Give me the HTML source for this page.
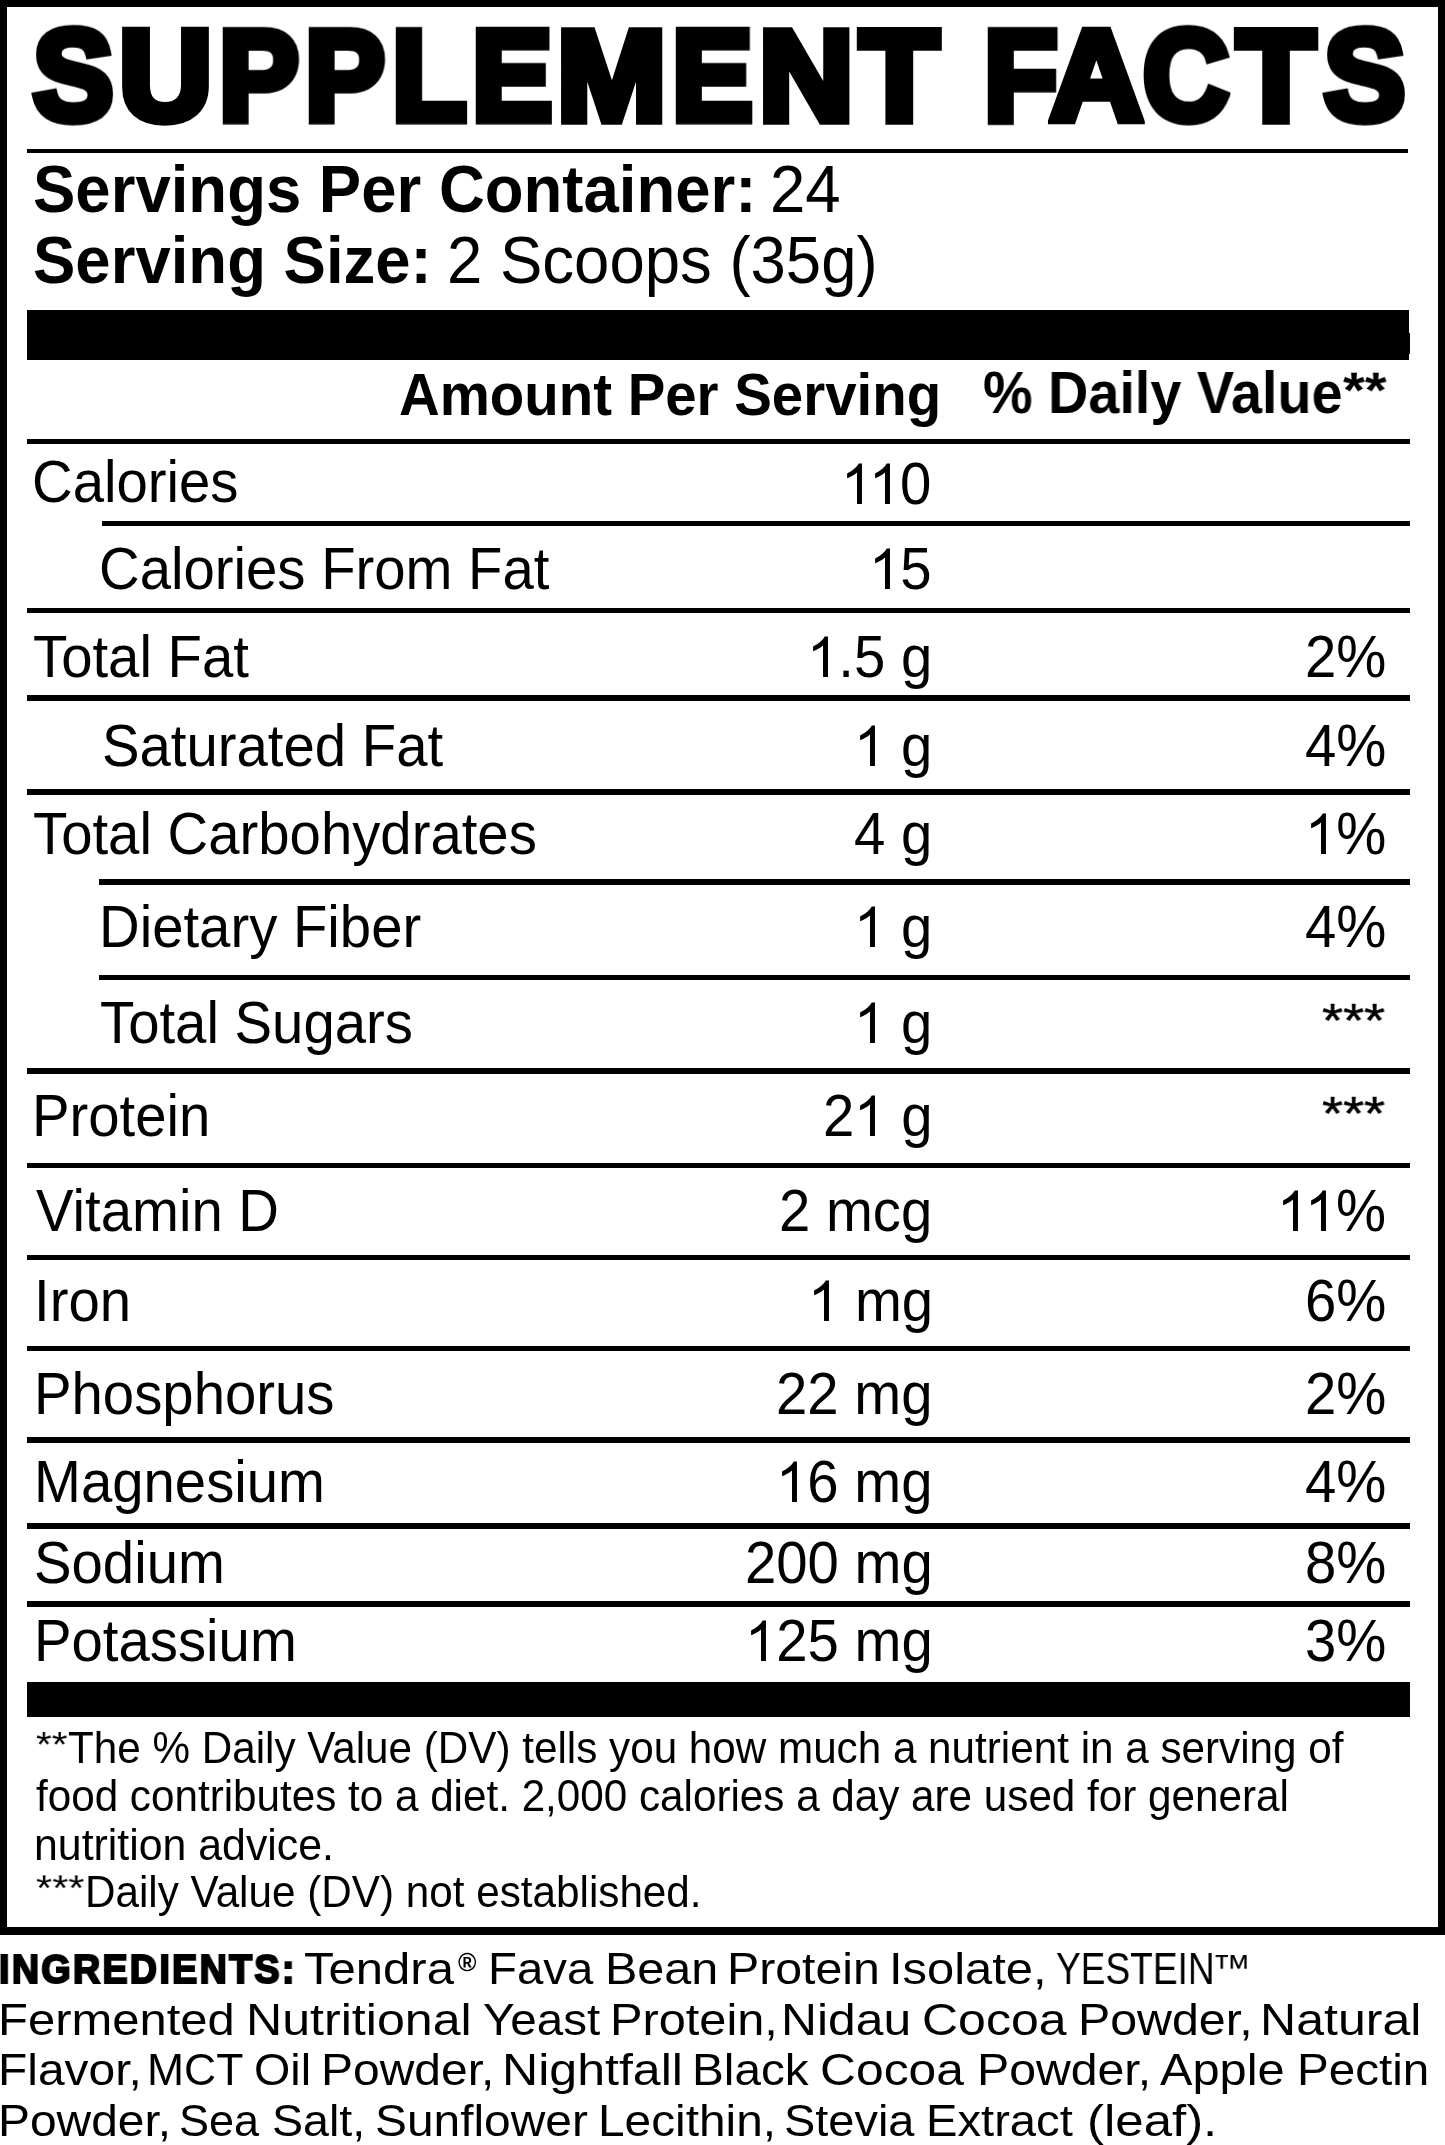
<!DOCTYPE html><html><head><meta charset="utf-8"><style>
html,body{margin:0;padding:0;background:#fff;}
body{width:1445px;height:2145px;position:relative;overflow:hidden;font-family:"Liberation Sans",sans-serif;color:#000;}
.t{position:absolute;white-space:pre;margin:0;padding:0;will-change:transform;}
.b{font-weight:700;}
.r{position:absolute;background:#000;}
.o{position:relative;color:transparent;}
.o svg{position:absolute;left:0;top:0;width:0.55615em;height:1.11719em;overflow:visible;}
</style></head><body>
<div class="r" style="left:0px;top:0px;width:1445px;height:7px"></div>
<div class="r" style="left:0px;top:0px;width:7px;height:1935px"></div>
<div class="r" style="left:1438px;top:0px;width:7px;height:1935px"></div>
<div class="r" style="left:0px;top:1927px;width:1445px;height:8px"></div>
<div class="r" style="left:27px;top:149px;width:1381px;height:4px"></div>
<div class="r" style="left:27px;top:310px;width:1382px;height:50px"></div>
<div class="r" style="left:1409px;top:333px;width:1px;height:21px"></div>
<div class="r" style="left:27px;top:439px;width:1383px;height:5px"></div>
<div class="r" style="left:102px;top:521px;width:1308px;height:5px"></div>
<div class="r" style="left:27px;top:608px;width:1383px;height:5px"></div>
<div class="r" style="left:27px;top:695px;width:1383px;height:6px"></div>
<div class="r" style="left:27px;top:789px;width:1383px;height:6px"></div>
<div class="r" style="left:99px;top:879px;width:1311px;height:6px"></div>
<div class="r" style="left:99px;top:975px;width:1311px;height:5px"></div>
<div class="r" style="left:27px;top:1068px;width:1383px;height:6px"></div>
<div class="r" style="left:27px;top:1163px;width:1383px;height:5px"></div>
<div class="r" style="left:27px;top:1255px;width:1383px;height:5px"></div>
<div class="r" style="left:27px;top:1346px;width:1383px;height:5px"></div>
<div class="r" style="left:27px;top:1437px;width:1383px;height:6px"></div>
<div class="r" style="left:27px;top:1523px;width:1383px;height:6px"></div>
<div class="r" style="left:27px;top:1601px;width:1383px;height:6px"></div>
<div class="r" style="left:27px;top:1682px;width:1383px;height:35px"></div>
<div id="t0" class="t b" style="left:32.53px;top:7.14px;font-size:125.00px;line-height:139.648px;transform-origin:0 113.16px;transform:scale(0.9647,1.0290);-webkit-text-stroke:9px #000;">S</div>
<div id="t1" class="t b" style="left:118.56px;top:7.14px;font-size:125.00px;line-height:139.648px;transform-origin:0 113.16px;transform:scale(1.0312,1.0290);-webkit-text-stroke:9px #000;">U</div>
<div id="t2" class="t b" style="left:218.59px;top:7.14px;font-size:125.00px;line-height:139.648px;transform-origin:0 113.16px;transform:scale(0.9578,1.0290);-webkit-text-stroke:9px #000;">P</div>
<div id="t3" class="t b" style="left:304.99px;top:7.14px;font-size:125.00px;line-height:139.648px;transform-origin:0 113.16px;transform:scale(0.9578,1.0290);-webkit-text-stroke:9px #000;">P</div>
<div id="t4" class="t b" style="left:391.84px;top:7.14px;font-size:125.00px;line-height:139.648px;transform-origin:0 113.16px;transform:scale(0.9756,1.0290);-webkit-text-stroke:9px #000;">L</div>
<div id="t5" class="t b" style="left:471.66px;top:7.14px;font-size:125.00px;line-height:139.648px;transform-origin:0 113.16px;transform:scale(0.9620,1.0290);-webkit-text-stroke:9px #000;">E</div>
<div id="t6" class="t b" style="left:556.62px;top:7.14px;font-size:125.00px;line-height:139.648px;transform-origin:0 113.16px;transform:scale(1.0502,1.0290);-webkit-text-stroke:9px #000;">M</div>
<div id="t7" class="t b" style="left:672.21px;top:7.14px;font-size:125.00px;line-height:139.648px;transform-origin:0 113.16px;transform:scale(0.9672,1.0290);-webkit-text-stroke:9px #000;">E</div>
<div id="t8" class="t b" style="left:759.35px;top:7.14px;font-size:125.00px;line-height:139.648px;transform-origin:0 113.16px;transform:scale(1.0465,1.0290);-webkit-text-stroke:9px #000;">N</div>
<div id="t9" class="t b" style="left:860.45px;top:7.14px;font-size:125.00px;line-height:139.648px;transform-origin:0 113.16px;transform:scale(1.0295,1.0290);-webkit-text-stroke:9px #000;">T</div>
<div id="t10" class="t b" style="left:983.94px;top:7.14px;font-size:125.00px;line-height:139.648px;transform-origin:0 113.16px;transform:scale(0.9640,1.0290);-webkit-text-stroke:9px #000;">F</div>
<div id="t11" class="t b" style="left:1050.40px;top:7.14px;font-size:125.00px;line-height:139.648px;transform-origin:0 113.16px;transform:scale(1.0278,1.0290);-webkit-text-stroke:9px #000;">A</div>
<div id="t12" class="t b" style="left:1143.13px;top:7.14px;font-size:125.00px;line-height:139.648px;transform-origin:0 113.16px;transform:scale(0.9496,1.0290);-webkit-text-stroke:9px #000;">C</div>
<div id="t13" class="t b" style="left:1236.97px;top:7.14px;font-size:125.00px;line-height:139.648px;transform-origin:0 113.16px;transform:scale(1.0222,1.0290);-webkit-text-stroke:9px #000;">T</div>
<div id="t14" class="t b" style="left:1323.79px;top:7.14px;font-size:125.00px;line-height:139.648px;transform-origin:0 113.16px;transform:scale(0.9743,1.0290);-webkit-text-stroke:9px #000;">S</div>
<div id="t15" class="t b" style="left:33.37px;top:154.52px;font-size:63.50px;line-height:70.941px;transform-origin:0 57.48px;transform:scale(1.0000,1.0400);">Servings Per Container:</div>
<div id="t16" class="t" style="left:770.11px;top:154.52px;font-size:63.50px;line-height:70.941px;transform-origin:0 57.48px;transform:scale(1.0000,1.0400);">24</div>
<div id="t17" class="t b" style="left:33.37px;top:225.52px;font-size:63.50px;line-height:70.941px;transform-origin:0 57.48px;transform:scale(1.0000,1.0400);">Serving Size:</div>
<div id="t18" class="t" style="left:447.01px;top:225.52px;font-size:63.50px;line-height:70.941px;transform-origin:0 57.48px;transform:scale(1.0000,1.0400);">2 Scoops (35g)</div>
<div id="t19" class="t b" style="left:399.20px;top:363.54px;font-size:56.40px;line-height:63.009px;transform-origin:0 51.06px;transform:scale(1.0000,1.0400);">Amount Per Serving</div>
<div id="t20" class="t b" style="left:982.91px;top:362.14px;font-size:56.40px;line-height:63.009px;transform-origin:0 51.06px;transform:scale(0.9889,1.0400);">% Daily Value</div>
<div id="t21" class="t b" style="left:1342.94px;top:356.04px;font-size:56.40px;line-height:63.009px;transform-origin:0 51.06px;transform:scale(0.9913,0.9050);">**</div>
<div id="t22" class="t" style="left:31.54px;top:452.03px;font-size:56.30px;line-height:62.898px;transform-origin:0 50.97px;transform:scale(1.0000,1.0400);">Calories</div>
<div id="t23" class="t" style="left:841.27px;top:454.03px;font-size:56.30px;line-height:62.898px;transform-origin:0 50.97px;transform:scale(1.0000,1.0400);"><span class="o" style="margin-right:-0.065em">1<svg viewBox="0 0 1139 2288"><path d="M763 1854 L583 1854 L583 751 Q518 811 412 870 Q306 930 222 960 L222 792 Q373 724 486 627 Q599 530 646 439 L763 439Z"/></svg></span><span class="o">1<svg viewBox="0 0 1139 2288"><path d="M763 1854 L583 1854 L583 751 Q518 811 412 870 Q306 930 222 960 L222 792 Q373 724 486 627 Q599 530 646 439 L763 439Z"/></svg></span>0</div>
<div id="t24" class="t" style="left:98.74px;top:539.03px;font-size:56.30px;line-height:62.898px;transform-origin:0 50.97px;transform:scale(1.0000,1.0400);">Calories From Fat</div>
<div id="t25" class="t" style="left:868.74px;top:539.03px;font-size:56.30px;line-height:62.898px;transform-origin:0 50.97px;transform:scale(1.0000,1.0400);"><span class="o">1<svg viewBox="0 0 1139 2288"><path d="M763 1854 L583 1854 L583 751 Q518 811 412 870 Q306 930 222 960 L222 792 Q373 724 486 627 Q599 530 646 439 L763 439Z"/></svg></span>5</div>
<div id="t26" class="t" style="left:33.24px;top:626.63px;font-size:56.30px;line-height:62.898px;transform-origin:0 50.97px;transform:scale(1.0000,1.0400);">Total Fat</div>
<div id="t27" class="t" style="left:807.41px;top:626.63px;font-size:56.30px;line-height:62.898px;transform-origin:0 50.97px;transform:scale(1.0000,1.0400);"><span class="o">1<svg viewBox="0 0 1139 2288"><path d="M763 1854 L583 1854 L583 751 Q518 811 412 870 Q306 930 222 960 L222 792 Q373 724 486 627 Q599 530 646 439 L763 439Z"/></svg></span>.5 g</div>
<div id="t28" class="t" style="left:1305.04px;top:626.63px;font-size:56.30px;line-height:62.898px;transform-origin:0 50.97px;transform:scale(1.0000,1.0400);">2%</div>
<div id="t29" class="t" style="left:101.84px;top:715.53px;font-size:56.30px;line-height:62.898px;transform-origin:0 50.97px;transform:scale(1.0000,1.0400);">Saturated Fat</div>
<div id="t30" class="t" style="left:854.36px;top:715.53px;font-size:56.30px;line-height:62.898px;transform-origin:0 50.97px;transform:scale(1.0000,1.0400);"><span class="o">1<svg viewBox="0 0 1139 2288"><path d="M763 1854 L583 1854 L583 751 Q518 811 412 870 Q306 930 222 960 L222 792 Q373 724 486 627 Q599 530 646 439 L763 439Z"/></svg></span> g</div>
<div id="t31" class="t" style="left:1305.04px;top:715.53px;font-size:56.30px;line-height:62.898px;transform-origin:0 50.97px;transform:scale(1.0000,1.0400);">4%</div>
<div id="t32" class="t" style="left:33.24px;top:804.03px;font-size:56.30px;line-height:62.898px;transform-origin:0 50.97px;transform:scale(1.0000,1.0400);">Total Carbohydrates</div>
<div id="t33" class="t" style="left:854.36px;top:804.03px;font-size:56.30px;line-height:62.898px;transform-origin:0 50.97px;transform:scale(1.0000,1.0400);">4 g</div>
<div id="t34" class="t" style="left:1305.04px;top:804.03px;font-size:56.30px;line-height:62.898px;transform-origin:0 50.97px;transform:scale(1.0000,1.0400);"><span class="o">1<svg viewBox="0 0 1139 2288"><path d="M763 1854 L583 1854 L583 751 Q518 811 412 870 Q306 930 222 960 L222 792 Q373 724 486 627 Q599 530 646 439 L763 439Z"/></svg></span>%</div>
<div id="t35" class="t" style="left:98.88px;top:897.33px;font-size:56.30px;line-height:62.898px;transform-origin:0 50.97px;transform:scale(1.0000,1.0400);">Dietary Fiber</div>
<div id="t36" class="t" style="left:854.36px;top:897.33px;font-size:56.30px;line-height:62.898px;transform-origin:0 50.97px;transform:scale(1.0000,1.0400);"><span class="o">1<svg viewBox="0 0 1139 2288"><path d="M763 1854 L583 1854 L583 751 Q518 811 412 870 Q306 930 222 960 L222 792 Q373 724 486 627 Q599 530 646 439 L763 439Z"/></svg></span> g</div>
<div id="t37" class="t" style="left:1305.04px;top:897.33px;font-size:56.30px;line-height:62.898px;transform-origin:0 50.97px;transform:scale(1.0000,1.0400);">4%</div>
<div id="t38" class="t" style="left:100.44px;top:993.33px;font-size:56.30px;line-height:62.898px;transform-origin:0 50.97px;transform:scale(1.0000,1.0400);">Total Sugars</div>
<div id="t39" class="t" style="left:854.36px;top:993.33px;font-size:56.30px;line-height:62.898px;transform-origin:0 50.97px;transform:scale(1.0000,1.0400);"><span class="o">1<svg viewBox="0 0 1139 2288"><path d="M763 1854 L583 1854 L583 751 Q518 811 412 870 Q306 930 222 960 L222 792 Q373 724 486 627 Q599 530 646 439 L763 439Z"/></svg></span> g</div>
<div id="t40" class="t" style="left:1321.53px;top:985.83px;font-size:56.30px;line-height:62.898px;transform-origin:0 50.97px;transform:scale(0.9598,0.8450);-webkit-text-stroke:0.6px #000;">***</div>
<div id="t41" class="t" style="left:31.68px;top:1086.23px;font-size:56.30px;line-height:62.898px;transform-origin:0 50.97px;transform:scale(1.0000,1.0400);">Protein</div>
<div id="t42" class="t" style="left:823.05px;top:1086.23px;font-size:56.30px;line-height:62.898px;transform-origin:0 50.97px;transform:scale(1.0000,1.0400);">2<span class="o">1<svg viewBox="0 0 1139 2288"><path d="M763 1854 L583 1854 L583 751 Q518 811 412 870 Q306 930 222 960 L222 792 Q373 724 486 627 Q599 530 646 439 L763 439Z"/></svg></span> g</div>
<div id="t43" class="t" style="left:1321.53px;top:1078.73px;font-size:56.30px;line-height:62.898px;transform-origin:0 50.97px;transform:scale(0.9598,0.8450);-webkit-text-stroke:0.6px #000;">***</div>
<div id="t44" class="t" style="left:36.15px;top:1180.63px;font-size:56.30px;line-height:62.898px;transform-origin:0 50.97px;transform:scale(1.0000,1.0400);">Vitamin D</div>
<div id="t45" class="t" style="left:779.32px;top:1180.63px;font-size:56.30px;line-height:62.898px;transform-origin:0 50.97px;transform:scale(1.0000,1.0400);">2 mcg</div>
<div id="t46" class="t" style="left:1276.72px;top:1180.63px;font-size:56.30px;line-height:62.898px;transform-origin:0 50.97px;transform:scale(1.0000,1.0400);"><span class="o" style="margin-right:-0.065em">1<svg viewBox="0 0 1139 2288"><path d="M763 1854 L583 1854 L583 751 Q518 811 412 870 Q306 930 222 960 L222 792 Q373 724 486 627 Q599 530 646 439 L763 439Z"/></svg></span><span class="o">1<svg viewBox="0 0 1139 2288"><path d="M763 1854 L583 1854 L583 751 Q518 811 412 870 Q306 930 222 960 L222 792 Q373 724 486 627 Q599 530 646 439 L763 439Z"/></svg></span>%</div>
<div id="t47" class="t" style="left:34.30px;top:1271.23px;font-size:56.30px;line-height:62.898px;transform-origin:0 50.97px;transform:scale(1.0000,1.0400);">Iron</div>
<div id="t48" class="t" style="left:808.47px;top:1271.23px;font-size:56.30px;line-height:62.898px;transform-origin:0 50.97px;transform:scale(1.0000,1.0400);"><span class="o">1<svg viewBox="0 0 1139 2288"><path d="M763 1854 L583 1854 L583 751 Q518 811 412 870 Q306 930 222 960 L222 792 Q373 724 486 627 Q599 530 646 439 L763 439Z"/></svg></span> mg</div>
<div id="t49" class="t" style="left:1305.04px;top:1271.23px;font-size:56.30px;line-height:62.898px;transform-origin:0 50.97px;transform:scale(1.0000,1.0400);">6%</div>
<div id="t50" class="t" style="left:34.18px;top:1363.53px;font-size:56.30px;line-height:62.898px;transform-origin:0 50.97px;transform:scale(1.0000,1.0400);">Phosphorus</div>
<div id="t51" class="t" style="left:776.15px;top:1363.53px;font-size:56.30px;line-height:62.898px;transform-origin:0 50.97px;transform:scale(1.0000,1.0400);">22 mg</div>
<div id="t52" class="t" style="left:1305.04px;top:1363.53px;font-size:56.30px;line-height:62.898px;transform-origin:0 50.97px;transform:scale(1.0000,1.0400);">2%</div>
<div id="t53" class="t" style="left:34.18px;top:1451.53px;font-size:56.30px;line-height:62.898px;transform-origin:0 50.97px;transform:scale(1.0000,1.0400);">Magnesium</div>
<div id="t54" class="t" style="left:776.15px;top:1451.53px;font-size:56.30px;line-height:62.898px;transform-origin:0 50.97px;transform:scale(1.0000,1.0400);"><span class="o">1<svg viewBox="0 0 1139 2288"><path d="M763 1854 L583 1854 L583 751 Q518 811 412 870 Q306 930 222 960 L222 792 Q373 724 486 627 Q599 530 646 439 L763 439Z"/></svg></span>6 mg</div>
<div id="t55" class="t" style="left:1305.04px;top:1451.53px;font-size:56.30px;line-height:62.898px;transform-origin:0 50.97px;transform:scale(1.0000,1.0400);">4%</div>
<div id="t56" class="t" style="left:33.74px;top:1533.13px;font-size:56.30px;line-height:62.898px;transform-origin:0 50.97px;transform:scale(1.0000,1.0400);">Sodium</div>
<div id="t57" class="t" style="left:744.84px;top:1533.13px;font-size:56.30px;line-height:62.898px;transform-origin:0 50.97px;transform:scale(1.0000,1.0400);">200 mg</div>
<div id="t58" class="t" style="left:1305.04px;top:1533.13px;font-size:56.30px;line-height:62.898px;transform-origin:0 50.97px;transform:scale(1.0000,1.0400);">8%</div>
<div id="t59" class="t" style="left:34.18px;top:1611.43px;font-size:56.30px;line-height:62.898px;transform-origin:0 50.97px;transform:scale(1.0000,1.0400);">Potassium</div>
<div id="t60" class="t" style="left:744.84px;top:1611.43px;font-size:56.30px;line-height:62.898px;transform-origin:0 50.97px;transform:scale(1.0000,1.0400);"><span class="o">1<svg viewBox="0 0 1139 2288"><path d="M763 1854 L583 1854 L583 751 Q518 811 412 870 Q306 930 222 960 L222 792 Q373 724 486 627 Q599 530 646 439 L763 439Z"/></svg></span>25 mg</div>
<div id="t61" class="t" style="left:1305.04px;top:1611.43px;font-size:56.30px;line-height:62.898px;transform-origin:0 50.97px;transform:scale(1.0000,1.0400);">3%</div>
<div id="t62" class="t" style="left:35.95px;top:1717.99px;font-size:42.10px;line-height:47.034px;transform-origin:0 38.11px;transform:scale(0.9554,0.8250);">**</div>
<div id="t63" class="t" style="left:68.35px;top:1724.59px;font-size:42.10px;line-height:47.034px;transform-origin:0 38.11px;transform:scale(1.0027,1.0400);">The % Daily Value (DV) tells you how much a nutrient in a serving of</div>
<div id="t64" class="t" style="left:35.80px;top:1773.09px;font-size:42.10px;line-height:47.034px;transform-origin:0 38.11px;transform:scale(1.0026,1.0400);">food contributes to a diet. 2,000 calories a day are used for general</div>
<div id="t65" class="t" style="left:33.56px;top:1822.09px;font-size:42.10px;line-height:47.034px;transform-origin:0 38.11px;transform:scale(1.0174,1.0400);">nutrition advice.</div>
<div id="t66" class="t" style="left:35.93px;top:1862.39px;font-size:42.10px;line-height:47.034px;transform-origin:0 38.11px;transform:scale(0.9836,0.8500);">***</div>
<div id="t67" class="t" style="left:85.14px;top:1868.89px;font-size:42.10px;line-height:47.034px;transform-origin:0 38.11px;transform:scale(1.0033,1.0400);">Daily Value (DV) not established.</div>
<div id="t68" class="t b" style="left:-0.52px;top:1947.28px;font-size:41.00px;line-height:45.805px;transform-origin:0 37.12px;transform:scale(0.9193,1.0000);-webkit-text-stroke:2.2px #000;letter-spacing:2.5px;">INGREDIENTS:</div>
<div id="t69" class="t" style="left:303.50px;top:1943.57px;font-size:44.00px;line-height:49.156px;transform-origin:0 39.83px;transform:scale(1.1144,1.0000);">Tendra</div>
<div id="t70" class="t" style="left:488.31px;top:1943.57px;font-size:44.00px;line-height:49.156px;transform-origin:0 39.83px;transform:scale(1.0767,1.0000);">Fava</div>
<div id="t71" class="t" style="left:605.12px;top:1943.57px;font-size:44.00px;line-height:49.156px;transform-origin:0 39.83px;transform:scale(1.1022,1.0000);">Bean</div>
<div id="t72" class="t" style="left:726.84px;top:1943.57px;font-size:44.00px;line-height:49.156px;transform-origin:0 39.83px;transform:scale(1.0963,1.0000);">Protein</div>
<div id="t73" class="t" style="left:889.29px;top:1943.57px;font-size:44.00px;line-height:49.156px;transform-origin:0 39.83px;transform:scale(1.1105,1.0000);">Isolate,</div>
<div id="t74" class="t" style="left:1056.39px;top:1943.57px;font-size:44.00px;line-height:49.156px;transform-origin:0 39.83px;transform:scale(0.8424,1.0000);">YESTEIN</div>
<div id="t75" class="t" style="left:-2.32px;top:1994.97px;font-size:44.00px;line-height:49.156px;transform-origin:0 39.83px;transform:scale(1.1126,1.0000);">Fermented</div>
<div id="t76" class="t" style="left:245.69px;top:1994.97px;font-size:44.00px;line-height:49.156px;transform-origin:0 39.83px;transform:scale(1.1394,1.0000);">Nutritional</div>
<div id="t77" class="t" style="left:483.16px;top:1994.97px;font-size:44.00px;line-height:49.156px;transform-origin:0 39.83px;transform:scale(1.0804,1.0000);">Yeast</div>
<div id="t78" class="t" style="left:610.00px;top:1994.97px;font-size:44.00px;line-height:49.156px;transform-origin:0 39.83px;transform:scale(1.1070,1.0000);">Protein,</div>
<div id="t79" class="t" style="left:781.22px;top:1994.97px;font-size:44.00px;line-height:49.156px;transform-origin:0 39.83px;transform:scale(1.1316,1.0000);">Nidau</div>
<div id="t80" class="t" style="left:921.96px;top:1994.97px;font-size:44.00px;line-height:49.156px;transform-origin:0 39.83px;transform:scale(1.1361,1.0000);">Cocoa</div>
<div id="t81" class="t" style="left:1078.24px;top:1994.97px;font-size:44.00px;line-height:49.156px;transform-origin:0 39.83px;transform:scale(1.0981,1.0000);">Powder,</div>
<div id="t82" class="t" style="left:1259.89px;top:1994.97px;font-size:44.00px;line-height:49.156px;transform-origin:0 39.83px;transform:scale(1.1379,1.0000);">Natural</div>
<div id="t83" class="t" style="left:-2.23px;top:2045.47px;font-size:44.00px;line-height:49.156px;transform-origin:0 39.83px;transform:scale(1.0887,1.0000);">Flavor,</div>
<div id="t84" class="t" style="left:146.55px;top:2045.47px;font-size:44.00px;line-height:49.156px;transform-origin:0 39.83px;transform:scale(1.0111,1.0000);">MCT</div>
<div id="t85" class="t" style="left:253.79px;top:2045.47px;font-size:44.00px;line-height:49.156px;transform-origin:0 39.83px;transform:scale(1.0612,1.0000);">Oil</div>
<div id="t86" class="t" style="left:321.37px;top:2045.47px;font-size:44.00px;line-height:49.156px;transform-origin:0 39.83px;transform:scale(1.0901,1.0000);">Powder,</div>
<div id="t87" class="t" style="left:501.89px;top:2045.47px;font-size:44.00px;line-height:49.156px;transform-origin:0 39.83px;transform:scale(1.1382,1.0000);">Nightfall</div>
<div id="t88" class="t" style="left:692.39px;top:2045.47px;font-size:44.00px;line-height:49.156px;transform-origin:0 39.83px;transform:scale(1.0837,1.0000);">Black</div>
<div id="t89" class="t" style="left:820.07px;top:2045.47px;font-size:44.00px;line-height:49.156px;transform-origin:0 39.83px;transform:scale(1.1312,1.0000);">Cocoa</div>
<div id="t90" class="t" style="left:977.35px;top:2045.47px;font-size:44.00px;line-height:49.156px;transform-origin:0 39.83px;transform:scale(1.0954,1.0000);">Powder,</div>
<div id="t91" class="t" style="left:1160.10px;top:2045.47px;font-size:44.00px;line-height:49.156px;transform-origin:0 39.83px;transform:scale(1.1074,1.0000);">Apple</div>
<div id="t92" class="t" style="left:1296.50px;top:2045.47px;font-size:44.00px;line-height:49.156px;transform-origin:0 39.83px;transform:scale(1.0818,1.0000);">Pectin</div>
<div id="t93" class="t" style="left:-2.23px;top:2096.37px;font-size:44.00px;line-height:49.156px;transform-origin:0 39.83px;transform:scale(1.0889,1.0000);">Powder,</div>
<div id="t94" class="t" style="left:178.55px;top:2096.37px;font-size:44.00px;line-height:49.156px;transform-origin:0 39.83px;transform:scale(1.0239,1.0000);">Sea</div>
<div id="t95" class="t" style="left:272.28px;top:2096.37px;font-size:44.00px;line-height:49.156px;transform-origin:0 39.83px;transform:scale(1.0587,1.0000);">Salt,</div>
<div id="t96" class="t" style="left:375.43px;top:2096.37px;font-size:44.00px;line-height:49.156px;transform-origin:0 39.83px;transform:scale(1.0881,1.0000);">Sunflower</div>
<div id="t97" class="t" style="left:598.28px;top:2096.37px;font-size:44.00px;line-height:49.156px;transform-origin:0 39.83px;transform:scale(1.0860,1.0000);">Lecithin,</div>
<div id="t98" class="t" style="left:783.87px;top:2096.37px;font-size:44.00px;line-height:49.156px;transform-origin:0 39.83px;transform:scale(1.0667,1.0000);">Stevia</div>
<div id="t99" class="t" style="left:926.33px;top:2096.37px;font-size:44.00px;line-height:49.156px;transform-origin:0 39.83px;transform:scale(1.0722,1.0000);">Extract</div>
<div id="t100" class="t" style="left:1087.24px;top:2096.37px;font-size:44.00px;line-height:49.156px;transform-origin:0 39.83px;transform:scale(1.1583,1.0000);">(leaf).</div>
<div id="t101" class="t b" style="left:457.51px;top:1949.37px;font-size:25.00px;line-height:27.930px;">®</div>
<div id="t102" class="t" style="left:1211.72px;top:1939.97px;font-size:44.00px;line-height:49.156px;transform-origin:0 39.83px;transform:scale(0.8874,0.8300);">™</div>
</body></html>
